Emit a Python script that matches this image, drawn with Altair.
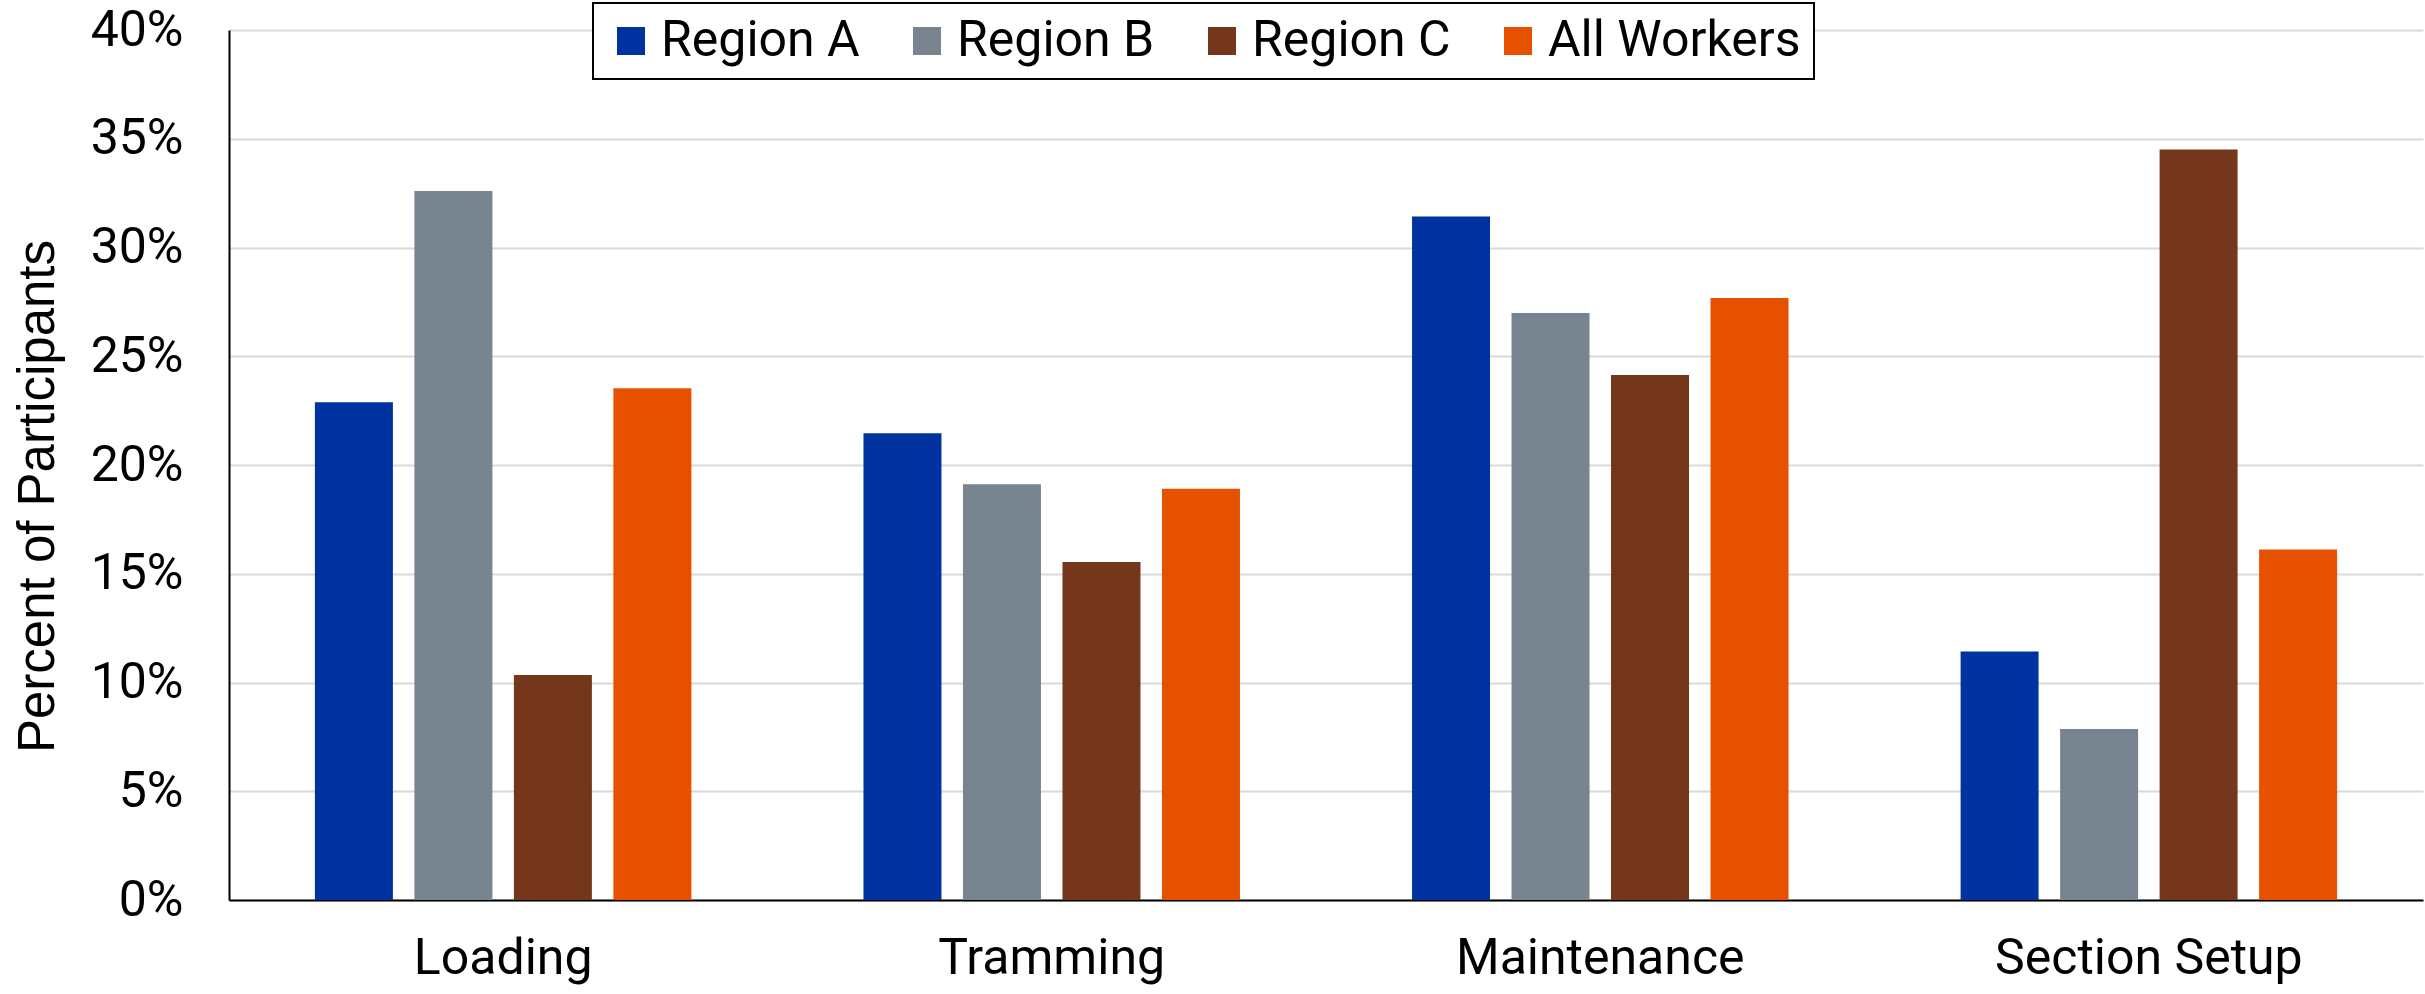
import altair as alt
import pandas as pd

activities = ["Loading", "Tramming", "Maintenance", "Section Setup"]
groups = ["Region A", "Region B", "Region C", "All Workers"]
region_a = [22.88, 21.46, 31.43, 11.43]
region_b = [32.60, 19.11, 26.99, 7.86]
region_c = [10.34, 15.54, 24.14, 34.51]
all_workers = [23.53, 18.91, 27.68, 16.12]
colors = ["#0033A0", "#788591", "#75371C", "#E65100"]

rows = []
for g, vals in zip(groups, [region_a, region_b, region_c, all_workers]):
    for a, v in zip(activities, vals):
        rows.append({"Activity": a, "Group": g, "Value": v / 100.0})
df = pd.DataFrame(rows)

FONT = "Roboto"
TFONT = "Liberation Sans"

chart = alt.Chart(df).mark_bar().encode(
    x=alt.X("Activity:N", sort=activities, title=None,
            scale=alt.Scale(paddingInner=0.2745, paddingOuter=0.137),
            axis=alt.Axis(labelAngle=0, labelFontSize=50, labelFont=FONT,
                          labelColor="black", ticks=False, labelPadding=33,
                          labelLimit=600,
                          domainColor="black", domainWidth=2, grid=False)),
    xOffset=alt.XOffset("Group:N", sort=groups,
                        scale=alt.Scale(paddingInner=0.216, paddingOuter=0.108)),
    y=alt.Y("Value:Q", title="Percent of Participants",
            scale=alt.Scale(domain=[0, 0.4], nice=False),
            axis=alt.Axis(format=".0%", values=[0, 0.05, 0.1, 0.15, 0.2, 0.25, 0.3, 0.35, 0.4],
                          labelFontSize=50, labelFont=FONT, labelColor="black",
                          ticks=False, labelPadding=46, domainColor="black", domainWidth=2,
                          gridColor="#d9d9d9", gridWidth=2,
                          titleFontSize=51, titleFont=TFONT, titleFontWeight="normal",
                          titleColor="black", titlePadding=26, titleY=466)),
    color=alt.Color("Group:N", sort=groups,
                    scale=alt.Scale(domain=groups, range=colors),
                    legend=alt.Legend(title=None,
                                      orient="none", direction="horizontal",
                                      legendX=364, legendY=-27, columns=4,
                                      symbolType="square", symbolSize=784,
                                      symbolStrokeWidth=0, symbolOffset=0,
                                      labelFontSize=50, labelFont=FONT, labelColor="black",
                                      labelOffset=5, columnPadding=42,
                                      padding=13, strokeColor="black",
                                      fillColor="white", labelLimit=400)),
).properties(
    width=2194, height=870,
    autosize=alt.AutoSizeParams(type="none"),
    padding={"left": 229, "top": 30, "right": 2, "bottom": 94},
).configure_view(stroke=None).configure_legend(strokeWidth=2)

chart.save("out.html", embed_options={"renderer": "svg", "actions": False})
